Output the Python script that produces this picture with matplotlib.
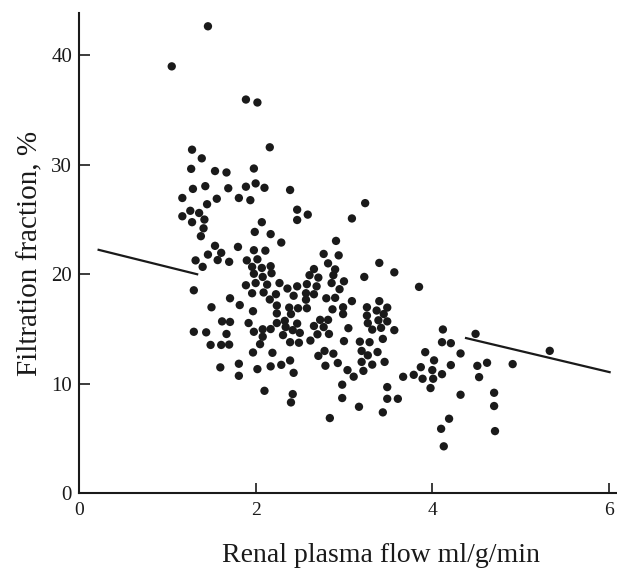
import matplotlib
matplotlib.use("Agg")
import matplotlib.pyplot as plt

# Renal plasma flow (ml/g/min)
rpf = [1.46, 1.05, 1.89, 2.02, 2.16, 1.28, 1.39, 1.27, 1.98, 1.54,
       1.67, 2.00, 1.89, 1.43, 1.29, 1.69, 2.10, 2.39, 1.17, 1.56,
       1.81, 1.94, 3.24, 1.45, 1.26, 1.36, 2.47, 1.17, 1.42, 2.59,
       2.47, 1.28, 3.09, 2.07, 1.41, 1.38, 1.99, 2.17, 2.29, 2.91,
       1.54, 1.80, 1.98, 2.11, 1.61, 1.46, 2.77, 2.94, 1.32, 1.57,
       1.70, 1.90, 2.02, 2.82, 3.40, 1.40, 1.96, 2.07, 2.17, 2.66,
       2.90, 3.57, 1.98, 2.18, 2.08, 2.61, 2.88, 3.23, 2.71, 1.89,
       2.00, 2.13, 2.27, 2.47, 2.58, 2.69, 2.86, 3.00, 3.85, 2.36,
       2.95, 1.30, 1.96, 2.09, 2.23, 2.43, 2.57, 2.66, 1.71, 2.16,
       2.80, 2.90, 2.57, 3.09, 3.40, 1.82, 2.24, 2.38, 2.48, 2.58,
       1.50, 2.87, 2.99, 3.26, 3.49, 3.37, 1.97, 2.24, 2.40, 2.99,
       3.26, 3.45, 1.62, 1.71, 1.92, 2.24, 2.33, 2.47, 2.73, 2.82,
       3.27, 3.39, 3.49, 2.66, 2.77, 3.05, 2.34, 2.42, 3.42, 3.57,
       3.32, 1.30, 1.44, 1.67, 1.98, 2.08, 2.17, 2.31, 2.50, 2.70,
       2.83, 4.12, 4.49, 2.08, 3.44, 1.49, 1.61, 1.70, 2.05, 2.39,
       2.49, 2.62, 3.00, 3.18, 3.29, 4.11, 4.21, 1.97, 2.19, 2.78,
       3.20, 3.92, 4.32, 2.88, 3.38, 2.71, 3.27, 1.60, 1.81, 2.02,
       2.17, 2.29, 2.39, 2.79, 2.93, 3.20, 3.32, 3.46, 4.02, 4.21,
       4.51, 4.62, 4.91, 3.87, 1.81, 2.43, 3.04, 3.22, 4.00, 3.11,
       3.67, 3.79, 3.89, 4.01, 4.11, 4.53, 2.10, 2.98, 3.49, 3.98,
       2.42, 4.32, 4.70, 2.40, 2.98, 3.49, 3.61, 3.17, 3.44, 4.70,
       2.84, 4.19, 4.10, 4.71, 4.13, 5.33]

# Filtration fraction (%)
ff = [42.65, 38.99, 35.96, 35.69, 31.60, 31.38, 30.59, 29.63, 29.66, 29.43,
      29.30, 28.30, 28.00, 28.05, 27.80, 27.86, 27.90, 27.70, 26.97, 26.90,
      26.97, 26.77, 26.50, 26.40, 25.80, 25.60, 25.90, 25.30, 25.00, 25.45,
      24.96, 24.76, 25.10, 24.76, 24.20, 23.48, 23.87, 23.67, 22.90, 23.05,
      22.60, 22.50, 22.20, 22.16, 21.96, 21.80, 21.86, 21.73, 21.27, 21.30,
      21.14, 21.27, 21.37, 21.00, 21.04, 20.68, 20.68, 20.58, 20.74, 20.48,
      20.45, 20.18, 20.05, 20.10, 19.76, 19.92, 19.92, 19.76, 19.70, 19.00,
      19.20, 19.06, 19.20, 18.90, 19.10, 18.90, 19.20, 19.36, 18.85, 18.70,
      18.64, 18.54, 18.27, 18.34, 18.18, 18.04, 18.27, 18.18, 17.81, 17.70,
      17.81, 17.85, 17.68, 17.55, 17.55, 17.19, 17.15, 16.96, 16.90, 16.90,
      16.99, 16.80, 16.99, 16.99, 16.96, 16.69, 16.63, 16.43, 16.37, 16.37,
      16.23, 16.37, 15.70, 15.65, 15.55, 15.55, 15.75, 15.50, 15.84, 15.84,
      15.54, 15.80, 15.70, 15.28, 15.18, 15.08, 15.18, 14.90, 15.11, 14.90,
      14.95, 14.75, 14.70, 14.55, 14.75, 14.98, 15.00, 14.45, 14.65, 14.52,
      14.55, 14.96, 14.56, 14.30, 14.10, 13.55, 13.55, 13.58, 13.62, 13.80,
      13.75, 13.95, 13.90, 13.85, 13.80, 13.80, 13.71, 12.86, 12.83, 13.00,
      13.00, 12.89, 12.77, 12.75, 12.90, 12.55, 12.60, 11.50, 11.83, 11.34,
      11.59, 11.73, 12.13, 11.65, 11.90, 12.00, 11.75, 12.00, 12.14, 11.71,
      11.64, 11.92, 11.80, 11.52, 10.73, 11.00, 11.25, 11.18, 11.25, 10.65,
      10.64, 10.82, 10.46, 10.46, 10.88, 10.61, 9.36, 9.92, 9.70, 9.61,
      9.06, 9.00, 9.18, 8.30, 8.70, 8.63, 8.63, 7.90, 7.39, 7.97,
      6.87, 6.81, 5.89, 5.68, 4.29, 13.01]

# Regression line segments (two drawn pieces)
line_left_x = [0.21, 1.35]
line_left_y = [22.26, 19.98]
line_right_x = [4.37, 6.02]
line_right_y = [14.20, 11.04]

x_ticks = [2, 4, 6]
y_ticks = [10, 20, 30, 40]

plt.rcParams['font.family'] = ['Liberation Serif', 'DejaVu Serif']

fig = plt.figure(figsize=(6.17, 5.68), dpi=100)
W, H = 617, 568
left_px, right_px = 79, 616
top_px, bottom_px = 12.6, 493.3
ax = fig.add_axes([left_px / W, 1 - bottom_px / H,
                   (right_px - left_px) / W, (bottom_px - top_px) / H])

ink = '#1a1a1a'
ax.scatter(rpf, ff, s=36, color=ink, edgecolors='none', zorder=3)
ax.plot(line_left_x, line_left_y, color=ink, lw=1.6, solid_capstyle='butt')
ax.plot(line_right_x, line_right_y, color=ink, lw=1.6, solid_capstyle='butt')

ax.set_xlim(0, 6.08)
ax.set_ylim(0, 43.9)

for s in ['top', 'right']:
    ax.spines[s].set_visible(False)
for s in ['left', 'bottom']:
    ax.spines[s].set_linewidth(1.5)
    ax.spines[s].set_color(ink)

ax.set_xticks([0] + x_ticks)
ax.set_xticklabels(['0'] + [str(t) for t in x_ticks])
ax.set_yticks([0] + y_ticks)
ax.set_yticklabels(['0'] + [str(t) for t in y_ticks])
ax.tick_params(axis='x', direction='in', length=7.5, width=1.2, pad=6,
               labelsize=14, colors=ink)
ax.tick_params(axis='y', direction='in', length=8, width=1.2, pad=5,
               labelsize=15, colors=ink)

fig.text(380.5 / W, 1 - 562 / H, 'Renal plasma flow ml/g/min', fontsize=20,
         ha='center', va='baseline', color=ink)
ax.set_ylabel('Filtration fraction, %', fontsize=21, labelpad=5.5, color=ink)

fig.savefig('out.png', dpi=100)
